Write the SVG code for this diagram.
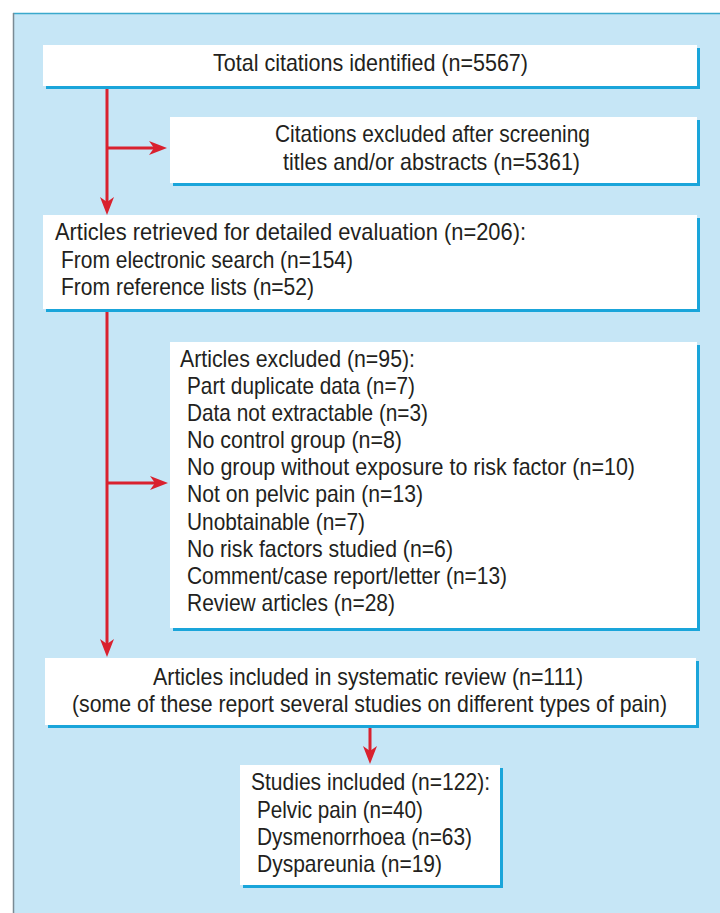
<svg xmlns="http://www.w3.org/2000/svg" width="720" height="913" viewBox="0 0 720 913">
<defs>
<style>
.bg{fill:#c6e6f6}
.box{fill:#ffffff}
.sh{fill:#1aa5da}
.t{font-family:"Liberation Sans",Arial,sans-serif;font-size:24px;fill:#231f20}
.c{stroke:#d9212e;stroke-width:3;fill:none}
</style>
<marker id="ah" markerUnits="userSpaceOnUse" markerWidth="20" markerHeight="14" refX="10" refY="7" orient="auto">
<path d="M0,0 L18,7 L0,14 L5,7 z" fill="#d9212e"/>
</marker>
</defs>
<rect x="0" y="0" width="720" height="913" fill="#ffffff"/>
<rect class="bg" x="13" y="13" width="707" height="900"/>
<line x1="13" y1="13.5" x2="720" y2="13.5" stroke="#3aa9cc" stroke-width="1.5"/>
<line x1="13.5" y1="13" x2="13.5" y2="913" stroke="#7a8a94" stroke-width="1.5"/>

<g id="connectors">
<line class="c" x1="107" y1="86" x2="107" y2="207" marker-end="url(#ah)"/>
<line class="c" x1="107" y1="148" x2="159" y2="148" marker-end="url(#ah)"/>
<line class="c" x1="107" y1="309" x2="107" y2="649" marker-end="url(#ah)"/>
<line class="c" x1="107" y1="483" x2="160" y2="483" marker-end="url(#ah)"/>
<line class="c" x1="370" y1="727" x2="370" y2="756" marker-end="url(#ah)"/>
</g>

<g id="n1">
<rect class="sh" x="46" y="48" width="654" height="41"/>
<rect class="box" x="43" y="45" width="654" height="41"/>
<text class="t" x="213" y="71" textLength="315" lengthAdjust="spacingAndGlyphs">Total citations identified (n=5567)</text>
</g>

<g id="n2">
<rect class="sh" x="173" y="120" width="527" height="66"/>
<rect class="box" x="170" y="117" width="527" height="66"/>
<text class="t" x="275" y="142" textLength="315" lengthAdjust="spacingAndGlyphs">Citations excluded after screening</text>
<text class="t" x="283" y="170" textLength="297" lengthAdjust="spacingAndGlyphs">titles and/or abstracts (n=5361)</text>
</g>

<g id="n3">
<rect class="sh" x="46" y="218" width="654" height="94"/>
<rect class="box" x="43" y="215" width="654" height="94"/>
<text class="t" x="55" y="240" textLength="471" lengthAdjust="spacingAndGlyphs">Articles retrieved for detailed evaluation (n=206):</text>
<text class="t" x="61" y="268" textLength="292" lengthAdjust="spacingAndGlyphs">From electronic search (n=154)</text>
<text class="t" x="61" y="295" textLength="253" lengthAdjust="spacingAndGlyphs">From reference lists (n=52)</text>
</g>

<g id="n4">
<rect class="sh" x="173" y="345" width="527" height="286"/>
<rect class="box" x="170" y="342" width="527" height="286"/>
<text class="t" x="180" y="367" textLength="235" lengthAdjust="spacingAndGlyphs">Articles excluded (n=95):</text>
<text class="t" x="187" y="394" textLength="228" lengthAdjust="spacingAndGlyphs">Part duplicate data (n=7)</text>
<text class="t" x="187" y="421" textLength="241" lengthAdjust="spacingAndGlyphs">Data not extractable (n=3)</text>
<text class="t" x="187" y="448" textLength="215" lengthAdjust="spacingAndGlyphs">No control group (n=8)</text>
<text class="t" x="187" y="475" textLength="448" lengthAdjust="spacingAndGlyphs">No group without exposure to risk factor (n=10)</text>
<text class="t" x="187" y="502" textLength="236" lengthAdjust="spacingAndGlyphs">Not on pelvic pain (n=13)</text>
<text class="t" x="187" y="530" textLength="178" lengthAdjust="spacingAndGlyphs">Unobtainable (n=7)</text>
<text class="t" x="187" y="557" textLength="266" lengthAdjust="spacingAndGlyphs">No risk factors studied (n=6)</text>
<text class="t" x="187" y="584" textLength="320" lengthAdjust="spacingAndGlyphs">Comment/case report/letter (n=13)</text>
<text class="t" x="187" y="611" textLength="208" lengthAdjust="spacingAndGlyphs">Review articles (n=28)</text>
</g>

<g id="n5">
<rect class="sh" x="48" y="661" width="651" height="67"/>
<rect class="box" x="45" y="658" width="651" height="67"/>
<text class="t" x="153" y="685" textLength="430" lengthAdjust="spacingAndGlyphs">Articles included in systematic review (n=111)</text>
<text class="t" x="72" y="712" textLength="595" lengthAdjust="spacingAndGlyphs">(some of these report several studies on different types of pain)</text>
</g>

<g id="n6">
<rect class="sh" x="243" y="768" width="260" height="120"/>
<rect class="box" x="240" y="765" width="260" height="120"/>
<text class="t" x="251" y="790" textLength="239" lengthAdjust="spacingAndGlyphs">Studies included (n=122):</text>
<text class="t" x="257" y="818" textLength="166" lengthAdjust="spacingAndGlyphs">Pelvic pain (n=40)</text>
<text class="t" x="257" y="845" textLength="215" lengthAdjust="spacingAndGlyphs">Dysmenorrhoea (n=63)</text>
<text class="t" x="257" y="872" textLength="185" lengthAdjust="spacingAndGlyphs">Dyspareunia (n=19)</text>
</g>
</svg>
